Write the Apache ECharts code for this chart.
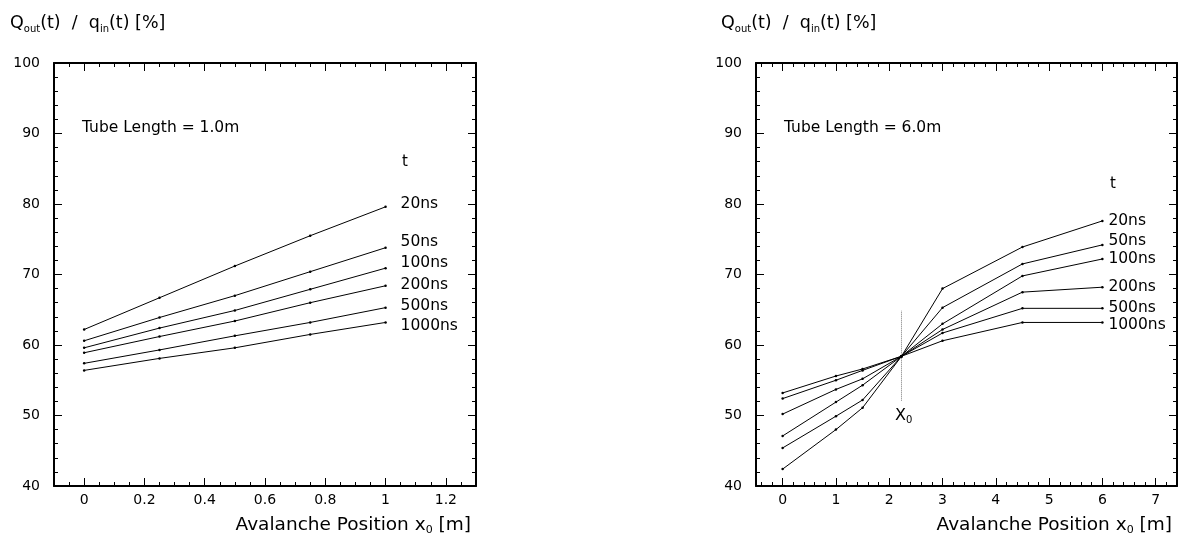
<!DOCTYPE html>
<html>
<head>
<meta charset="utf-8">
<script src="https://cdn.jsdelivr.net/npm/echarts@6/dist/echarts.min.js"></script>
<style>
  html, body { margin: 0; padding: 0; background: #fff; }
  #chart { width: 1180px; height: 536px; }
</style>
</head>
<body>
<div id="chart"></div>
<script>
// ---- data -------------------------------------------------------------
const timeLabels = ['20ns', '50ns', '100ns', '200ns', '500ns', '1000ns'];

// Tube length 1.0 m : avalanche position [m] vs charge ratio [%]
const shortX = [0, 0.25, 0.5, 0.75, 1.0];
const short20   = [62.2, 66.7, 71.2, 75.5, 79.6];
const short50   = [60.6, 63.9, 67.0, 70.4, 73.8];
const short100  = [59.6, 62.4, 64.9, 67.9, 70.9];
const short200  = [58.9, 61.2, 63.4, 66.0, 68.4];
const short500  = [57.4, 59.3, 61.3, 63.2, 65.3];
const short1000 = [56.4, 58.1, 59.6, 61.5, 63.2];

// Tube length 6.0 m
const longX = [0, 1, 1.5, 2.23, 3, 4.5, 6];
const long20   = [42.4, 48.0, 51.1, 58.4, 68.0, 73.9, 77.6];
const long50   = [45.4, 49.9, 52.2, 58.4, 65.3, 71.5, 74.2];
const long100  = [47.1, 51.9, 54.3, 58.4, 63.0, 69.8, 72.2];
const long200  = [50.2, 53.7, 55.2, 58.4, 62.2, 67.5, 68.2];
const long500  = [52.4, 55.0, 56.4, 58.4, 61.7, 65.2, 65.2];
const long1000 = [53.2, 55.6, 56.6, 58.4, 60.6, 63.2, 63.2];

// position X0 where all curves cross, and extent of its marker line
const x0Position = 2.23;
const x0Marker = [52.1, 64.9];

// axis ticks
const shortXMajor = [0, 0.2, 0.4, 0.6, 0.8, 1, 1.2];
const longXMajor = [0, 1, 2, 3, 4, 5, 6, 7];
const yTicks = [40, 50, 60, 70, 80, 90, 100];

// ---- helpers ----------------------------------------------------------
function steps(from, to, step) {
  const out = [];
  const n = Math.round((to - from) / step);
  for (let i = 0; i <= n; i++) out.push(+(from + i * step).toFixed(4));
  return out;
}
const shortXMinor = steps(-0.1, 1.3, 0.05);
const longXMinor = steps(-0.4, 7.4, 0.2);

const FONT = 'DejaVu Sans';
const BLACK = '#000';

function pairs(xs, ys) { return xs.map((x, i) => [x, ys[i]]); }

function xAxes(gridIndex, min, max, major, minor) {
  const base = {
    type: 'value', gridIndex, min, max, splitLine: { show: false },
    axisLine: { show: true, onZero: false, lineStyle: { color: BLACK, width: 2 } }
  };
  return [
    Object.assign({}, base, {
      position: 'bottom',
      axisTick: { show: true, inside: true, length: 8, customValues: major, lineStyle: { color: BLACK, width: 1 } },
      axisLabel: { show: true, customValues: major, margin: 7, color: BLACK, fontFamily: FONT, fontSize: 14 }
    }),
    Object.assign({}, base, {
      position: 'bottom', axisLine: { show: false },
      axisTick: { show: true, inside: true, length: 4, customValues: minor, lineStyle: { color: BLACK, width: 1 } },
      axisLabel: { show: false }
    }),
    Object.assign({}, base, {
      position: 'top',
      axisTick: { show: true, inside: true, length: 8, customValues: major, lineStyle: { color: BLACK, width: 1 } },
      axisLabel: { show: false }
    }),
    Object.assign({}, base, {
      position: 'top', axisLine: { show: false },
      axisTick: { show: true, inside: true, length: 4, customValues: minor, lineStyle: { color: BLACK, width: 1 } },
      axisLabel: { show: false }
    })
  ];
}

function yAxes(gridIndex) {
  const base = {
    type: 'value', gridIndex, min: 40, max: 100, interval: 10, splitLine: { show: false },
    axisLine: { show: true, onZero: false, lineStyle: { color: BLACK, width: 2 } },
    axisTick: { show: true, inside: true, length: 8, lineStyle: { color: BLACK, width: 1 } },
    minorTick: { show: true, splitNumber: 5, length: 4, lineStyle: { color: BLACK, width: 1 } }
  };
  return [
    Object.assign({}, base, {
      position: 'left',
      axisLabel: { show: true, margin: 14, color: BLACK, fontFamily: FONT, fontSize: 14,
                   customValues: yTicks }
    }),
    Object.assign({}, base, { position: 'right', axisLabel: { show: false } })
  ];
}

// label offsets keep neighbouring end labels apart
const shortLabelShift = [-3, -6, -5, -1, -2, 4];
const longLabelShift = [0, -4, 0, 0, 0, 3];

function curve(name, xs, ys, xIdx, yIdx, gap, dy) {
  return {
    type: 'line', name, xAxisIndex: xIdx, yAxisIndex: yIdx,
    data: pairs(xs, ys),
    symbol: 'circle', symbolSize: 2.5, showAllSymbol: true,
    lineStyle: { color: BLACK, width: 1 },
    itemStyle: { color: BLACK },
    emphasis: { disabled: true },
    endLabel: {
      show: true, formatter: name, color: BLACK, fontFamily: FONT, fontSize: 15.5,
      distance: gap, offset: [0, dy]
    }
  };
}

const shortSets = [short20, short50, short100, short200, short500, short1000];
const longSets = [long20, long50, long100, long200, long500, long1000];

const series = [];
shortSets.forEach((ys, i) => series.push(curve(timeLabels[i], shortX, ys, 0, 0, 15, shortLabelShift[i])));
longSets.forEach((ys, i) => series.push(curve(timeLabels[i], longX, ys, 4, 2, 6, longLabelShift[i])));

// dotted marker at X0
series.push({
  type: 'line', xAxisIndex: 4, yAxisIndex: 2,
  data: [[x0Position, x0Marker[0]], [x0Position, x0Marker[1]]],
  symbol: 'none',
  lineStyle: { color: '#777', width: 1, type: [1, 1] },
  emphasis: { disabled: true }
});

const main = { fontFamily: FONT, fontSize: 17.5, fontWeight: 'normal', color: BLACK, lineHeight: 22 };
const sub = { fontFamily: FONT, fontSize: 10, fontWeight: 'normal', color: BLACK, lineHeight: 10, verticalAlign: 'bottom' };
const ratioTitle = '{a|Q}{s|out}{a|(t)  /  q}{s|in}{a|(t) [%]}';
const posTitle = '{b|Avalanche Position x}{t|0}{b| [m]}';
const axisTitleRich = {
  b: { fontFamily: FONT, fontSize: 18.5, fontWeight: 'normal', color: BLACK, lineHeight: 22 },
  t: { fontFamily: FONT, fontSize: 11, fontWeight: 'normal', color: BLACK, lineHeight: 10, verticalAlign: 'bottom' }
};

const option = {
  animation: false,
  backgroundColor: '#fff',
  grid: [
    { left: 54, top: 63, width: 422, height: 423 },
    { left: 756, top: 63, width: 421, height: 423 }
  ],
  xAxis: [].concat(
    xAxes(0, -0.1, 1.3, shortXMajor, shortXMinor),
    xAxes(1, -0.5, 7.4, longXMajor, longXMinor)
  ),
  yAxis: [].concat(yAxes(0), yAxes(1)),
  title: [
    { text: ratioTitle, left: 5, top: 7, textStyle: { fontWeight: 'normal', rich: { a: main, s: sub } } },
    { text: ratioTitle, left: 716, top: 7, textStyle: { fontWeight: 'normal', rich: { a: main, s: sub } } },
    { text: posTitle, right: 704, top: 509, textStyle: { fontWeight: 'normal', rich: axisTitleRich } },
    { text: posTitle, right: 3, top: 509, textStyle: { fontWeight: 'normal', rich: axisTitleRich } }
  ],
  graphic: [
    { type: 'text', left: 82, top: 120, style: { text: 'Tube Length = 1.0m', font: '15.5px "DejaVu Sans"', fill: BLACK } },
    { type: 'text', left: 784, top: 120, style: { text: 'Tube Length = 6.0m', font: '15.5px "DejaVu Sans"', fill: BLACK } },
    { type: 'text', left: 402, top: 155, style: { text: 't', font: '15px "DejaVu Sans"', fill: BLACK } },
    { type: 'text', left: 1110, top: 177, style: { text: 't', font: '15px "DejaVu Sans"', fill: BLACK } },
    {
      type: 'text', left: 895, top: 408,
      style: {
        text: '{x|X}{z|0}',
        rich: {
          x: { fontFamily: FONT, fontSize: 16, fill: BLACK, lineHeight: 18 },
          z: { fontFamily: FONT, fontSize: 10, fill: BLACK, lineHeight: 10, verticalAlign: 'bottom' }
        }
      }
    }
  ],
  series
};

const chart = echarts.init(document.getElementById('chart'), null, { renderer: 'canvas' });
chart.setOption(option);
</script>
</body>
</html>
